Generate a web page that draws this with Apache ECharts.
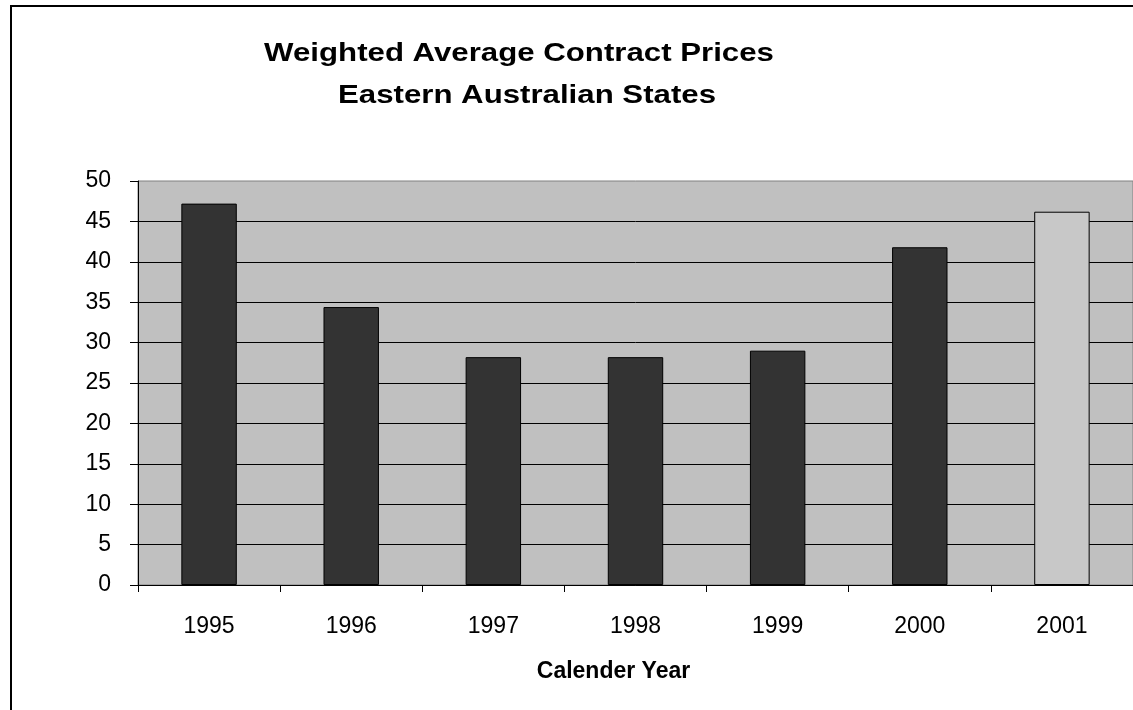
<!DOCTYPE html>
<html>
<head>
<meta charset="utf-8">
<script src="https://cdn.jsdelivr.net/npm/echarts@6/dist/echarts.min.js"></script>
<style>
  html, body { margin: 0; padding: 0; background: #fff; }
  #chart { width: 1133px; height: 710px; }
</style>
</head>
<body>
<div id="chart"></div>
<script>
// Weighted average contract prices by calendar year
const years = ['1995', '1996', '1997', '1998', '1999', '2000', '2001'];
const prices = [47.2, 34.4, 28.2, 28.2, 29.0, 41.8, 46.2];
const titleLines = ['Weighted Average Contract Prices', 'Eastern Australian States'];
const estimateYear = '2001';

const FONT = '"Liberation Sans", Arial, sans-serif';

const chart = echarts.init(document.getElementById('chart'), null, { renderer: 'canvas' });

const barData = prices.map((v, i) => ({
  value: v,
  itemStyle: years[i] === estimateYear
    ? { color: '#c8c8c8', borderColor: '#000', borderWidth: 1 }
    : { color: '#333333', borderColor: '#000', borderWidth: 1 }
}));

// Title lines drawn as wide bold text
const titleCenters = [519, 527];
const titleGraphics = titleLines.map((line, i) => ({
  type: 'text',
  x: titleCenters[i],
  y: 54 + i * 42,
  scaleX: 1.2,
  scaleY: 1,
  silent: true,
  style: {
    text: line,
    x: 0,
    y: 0,
    align: 'center',
    verticalAlign: 'middle',
    font: 'bold 26px ' + FONT,
    fill: '#000'
  }
}));

chart.setOption({
  animation: false,
  backgroundColor: '#ffffff',
  graphic: [
    ...titleGraphics,
    {
      type: 'rect',
      shape: { x: 11, y: 6, width: 1140, height: 720 },
      style: { fill: 'none', stroke: '#000', lineWidth: 2 },
      silent: true,
      z: 100
    }
  ],
  grid: {
    left: 138,
    top: 181,
    width: 997,
    bottom: 125,
    show: true,
    backgroundColor: '#c0c0c0',
    borderColor: '#808080',
    borderWidth: 1
  },
  xAxis: {
    type: 'category',
    data: years,
    name: 'Calender Year',
    nameLocation: 'middle',
    nameGap: 75,
    nameTextStyle: {
      fontFamily: FONT, fontWeight: 'bold', fontSize: 23, color: '#000',
      padding: [0, 44, 0, 0]
    },
    axisLine: { show: true, lineStyle: { color: '#000', width: 1 } },
    axisTick: { show: true, inside: false, length: 7, alignWithLabel: false, interval: 0, lineStyle: { color: '#000' } },
    axisLabel: { fontFamily: FONT, fontSize: 23, color: '#000', margin: 30 },
    splitLine: { show: false }
  },
  yAxis: {
    type: 'value',
    min: 0,
    max: 50,
    interval: 5,
    axisLine: { show: true, lineStyle: { color: '#000', width: 1 } },
    axisTick: { show: true, inside: false, length: 8, lineStyle: { color: '#000' } },
    axisLabel: { fontFamily: FONT, fontSize: 23, color: '#000', margin: 27 },
    splitLine: { show: true, showMaxLine: false, lineStyle: { color: '#000', width: 1 } }
  },
  series: [{
    type: 'bar',
    data: barData,
    barWidth: '39%'
  }]
});
</script>
</body>
</html>
